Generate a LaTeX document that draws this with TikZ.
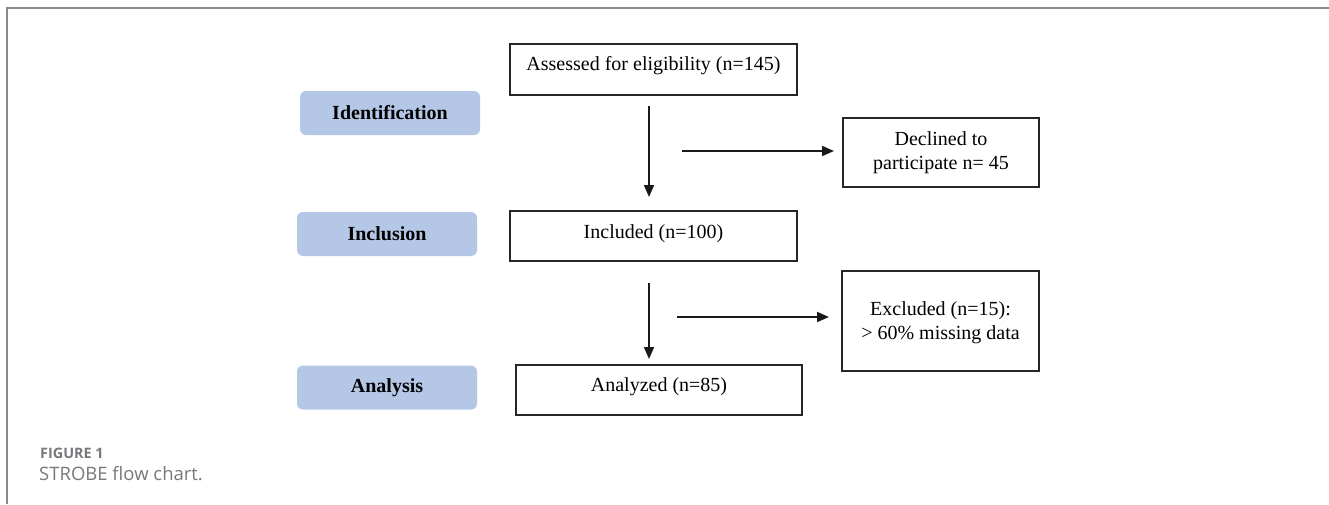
\documentclass[tikz,border=0pt]{standalone}
\usepackage{fontspec}
\setmainfont{Liberation Serif}
\newfontfamily\capfont{Open Sans}
\usetikzlibrary{arrows.meta}
\definecolor{phase}{HTML}{B4C7E7}
\definecolor{framegray}{HTML}{8A8A8A}
\definecolor{capgray}{HTML}{77787B}
\begin{document}
\begin{tikzpicture}[x=1pt,y=-1pt,
  box/.style={draw=black!85,line width=1.5pt,rectangle,inner sep=0pt},
  phasebox/.style={fill=phase,rounded corners=6pt,inner sep=0pt,minimum width=180pt,minimum height=44pt,
    font=\fontsize{20}{24}\selectfont\bfseries},
  txt/.style={inner sep=0pt,align=center,font=\fontsize{20}{24}\selectfont},
  arr/.style={line width=1.8pt,draw=black!90,-{Triangle[length=12pt,width=10pt]}}]
\useasboundingbox (0,0) rectangle (1329,504);
% frame
\draw[framegray,line width=2pt] (7,504) -- (7,8) -- (1329,8);
% phase boxes
\node[phasebox] (ident) at (390,113) {Identification};
\node[phasebox] (incl) at (387,234) {Inclusion};
\node[phasebox] (anal) at (387,387.5) {Analysis};
% flow boxes
\node[box,minimum width=287pt,minimum height=51pt] (assessed) at (653.5,69.5) {};
\node[txt] (assessedT) at (653.5,66) {Assessed for eligibility (n=145)};
\node[box,minimum width=196pt,minimum height=69pt] (declined) at (941,152.5) {};
\node[txt] (declinedT) at (941,152.5) {Declined to\\participate n= 45};
\node[box,minimum width=287pt,minimum height=50pt] (included) at (653.5,236) {};
\node[txt] (includedT) at (653.5,233.5) {Included (n=100)};
\node[box,minimum width=197pt,minimum height=100pt] (excluded) at (940.5,321) {};
\node[txt] (excludedT) at (940.5,323) {Excluded (n=15):\\\textgreater{} 60\% missing data};
\node[box,minimum width=286pt,minimum height=50pt] (analyzed) at (659,390) {};
\node[txt] (analyzedT) at (659,386.5) {Analyzed (n=85)};
% arrow end points
\coordinate (a1s) at (649,106);
\coordinate (a1e) at (649,197);
\coordinate (h1s) at (682,151);
\coordinate (h1e) at (834,151);
\coordinate (a2s) at (649,283);
\coordinate (a2e) at (649,359);
\coordinate (h2s) at (677,317);
\coordinate (h2e) at (829,317);
\draw[arr] (a1s) -- (a1e);
\draw[arr] (h1s) -- (h1e);
\draw[arr] (a2s) -- (a2e);
\draw[arr] (h2s) -- (h2e);
% caption
\node[anchor=west,inner sep=0pt,text=capgray,font=\capfont\fontsize{14.4}{16}\selectfont\bfseries] (fig) at (40,453) {FIGURE 1};
\node[anchor=west,inner sep=0pt,text=capgray,font=\capfont\fontsize{18.5}{22}\selectfont] (cap) at (39,474) {STROBE flow chart.};
\end{tikzpicture}
\end{document}
